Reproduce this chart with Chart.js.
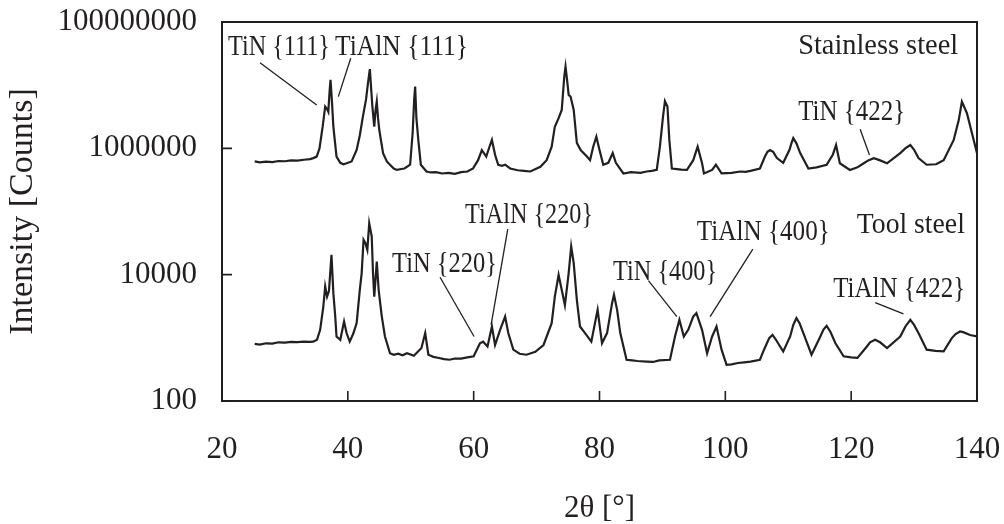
<!DOCTYPE html>
<html><head><meta charset="utf-8">
<script src="https://cdn.jsdelivr.net/npm/chart.js@4/dist/chart.umd.min.js"></script>
<style>html,body{margin:0;padding:0;background:#fff;overflow:hidden}#c{display:block}</style>
</head><body>
<canvas id="c" width="1004" height="524"></canvas>
<script>
// ---- data ----
const ssTheta = [25.2,26,27,28,29,30,31,32,33,34,34.5,35.05,35.5,35.85,36.0,36.4,36.7,36.9,37.1,37.25,37.5,37.7,38.2,38.8,39.3,39.8,40.6,41.4,41.9,42.4,42.9,43.2,43.5,43.7,43.9,44.2,44.4,44.6,44.8,45.0,45.6,46.2,46.7,47.3,47.8,48.5,49,49.9,50.3,50.55,50.7,50.9,51.2,51.6,52.5,53.2,54,55,56,57,58,59,59.9,60.7,61.3,61.6,62.0,62.5,62.9,63.4,63.9,64.5,65,65.8,67,68,69,70.6,71.6,72.4,72.9,73.5,74.0,74.4,74.6,74.85,75.1,75.4,75.9,76.4,77,78,78.5,79,79.5,80,80.6,81.4,82.1,82.6,83.8,85,86.5,87.5,88.3,89.1,89.6,90.1,90.4,90.8,91.1,91.5,92.3,93,93.9,94.9,95.6,96.3,96.6,97.9,98.5,99.4,100.2,101,102.4,103.2,104,105.5,106.3,106.7,107.1,107.6,108.2,109.2,110.2,110.5,110.8,111.3,111.9,113.2,114.5,116.1,117.1,117.6,118.2,119.8,121,122,122.8,123.6,124.5,125.7,127.8,128.6,129.4,130.0,130.7,132,133.5,134.7,136.3,137.1,137.6,138.4,139.2,140];
const ssCounts = [620000,600000,615000,605000,630000,625000,645000,640000,660000,675000,700000,740000,1000000,1750000,2200000,4600000,4200000,3800000,8000000,12100000,5000000,2200000,740000,590000,560000,580000,620000,940000,1600000,3200000,6000000,10800000,18000000,9000000,4600000,2200000,4000000,5500000,3000000,1950000,840000,620000,550000,480000,455000,470000,480000,550000,1750000,6000000,9500000,3000000,1360000,550000,430000,415000,420000,400000,410000,395000,420000,430000,480000,650000,940000,850000,740000,1050000,1360000,790000,550000,530000,550000,480000,450000,440000,430000,510000,650000,1060000,2200000,3000000,4060000,13600000,19600000,12000000,7000000,6600000,4060000,1220000,940000,740000,650000,1060000,1530000,940000,550000,590000,840000,590000,400000,420000,410000,430000,440000,455000,1060000,3200000,5600000,4600000,1360000,480000,470000,460000,455000,650000,1060000,580000,400000,455000,550000,400000,405000,410000,430000,425000,440000,480000,740000,880000,940000,880000,700000,590000,950000,1200000,1450000,1200000,840000,480000,500000,550000,800000,1130000,580000,455000,500000,580000,650000,700000,650000,580000,840000,1000000,1130000,950000,700000,550000,560000,650000,1360000,2800000,5500000,3600000,1730000,840000];

const tsTheta = [25.2,26,27,28,29,30,31,32,33,34,34.5,35.1,35.6,36.1,36.4,36.7,37.0,37.4,37.7,38.0,38.2,38.8,39.4,39.8,40.3,40.9,41.4,41.9,42.2,42.5,42.8,43.1,43.4,43.8,44.0,44.2,44.6,44.9,45.4,45.9,46.7,47.3,48,48.7,49.4,50.5,51.7,52.3,52.8,53.6,54.5,55.3,56.2,57,58,59,60,61,61.5,62.2,62.9,63.4,64.2,65,65.5,66.3,67.3,68.4,69.8,71.1,72.4,72.9,73.5,74.0,74.5,75.1,75.5,75.9,76.4,76.9,77.7,78.7,79.7,80.4,81.2,82.0,82.3,82.8,83.3,84.3,85.2,86,87.5,88.5,89.5,91.2,92.0,92.7,93.4,94.1,94.9,95.4,96.3,97.1,97.9,98.6,99.4,100.2,101,102,103,104,105.5,106.0,106.6,107.0,107.5,108.0,108.7,109.2,110.3,110.8,111.3,111.8,112.4,113.7,115.1,115.6,116.1,116.7,117.5,118.8,120,121,122.5,123.0,123.8,124.6,125.7,127.8,128.6,129.4,130.0,130.7,132,133.4,134.7,136,136.6,137.3,137.8,138.9,140];
const tsCounts = [800,780,820,810,850,840,860,855,870,865,870,930,1340,3100,6500,4500,5500,20600,5100,2170,1050,930,1810,1190,870,1190,1710,5700,10600,35600,31500,24700,65000,40000,10600,4500,16100,5700,2170,1050,570,540,560,530,570,520,690,1190,540,500,480,460,450,470,470,490,510,820,870,730,1510,770,1340,2170,1190,650,560,540,600,770,1710,4500,9900,5700,3300,10600,27900,15200,4000,1510,1190,870,2770,820,1190,3540,4800,2770,1190,450,440,430,420,415,440,450,1050,1930,1050,1340,2170,2460,1340,570,1050,1510,650,375,380,400,410,420,450,600,820,1000,1110,950,730,610,1050,1600,2050,1700,1190,540,1050,1350,1550,1250,820,510,490,480,730,850,930,850,690,1050,1500,1930,1600,1190,650,620,610,990,1150,1260,1230,1110,1050];

const xTickValues = [20,40,60,80,100,120,140];
const yTickValues = [100,10000,1000000,100000000];
const yTickLabels = ['100','10000','1000000','100000000'];

// annotation texts with leader lines (data coordinates)
const annotations = [
  {text:'TiN {111}',      at:[20.95,3.0e7],  w:102, from:[26.04,2.27e7], to:[35.05,4.86e6]},
  {text:'TiAlN {111}',    at:[37.97,3.0e7],  w:133, from:[40.46,2.67e7], to:[38.49,6.58e6]},
  {text:'Stainless steel',at:[111.57,3.12e7],w:160},
  {text:'TiN {422}',      at:[111.57,2.81e6],w:107, from:[121.43,2.0e6], to:[122.91,7.87e5]},
  {text:'TiAlN {220}',    at:[58.63,6.6e4],  w:128, from:[65.42,5.25e4], to:[62.77,1.61e3]},
  {text:'TiN {220}',      at:[47.03,1.12e4], w:105, from:[54.66,9.1e3],  to:[60.06,1.05e3]},
  {text:'TiN {400}',      at:[82.16,8.27e3], w:104, from:[87.78,8.07e3], to:[92.29,2.17e3]},
  {text:'TiAlN {400}',    at:[95.47,3.55e4], w:133, from:[104.37,2.53e4],to:[97.58,2.17e3]},
  {text:'Tool steel',     at:[120.9,4.58e4], w:108},
  {text:'TiAlN {422}',    at:[117.14,4.5e3], w:132, from:[123.82,3.62e3],to:[128.31,2.4e3]}
];

const INK = '#231f20';
const SERIF = "'Liberation Serif','Times New Roman',serif";

const framePlugin = {
  id:'frame',
  afterDatasetsDraw(chart){
    const {ctx, chartArea:a, scales:{x, y}} = chart;
    ctx.save();
    ctx.strokeStyle = INK;
    ctx.lineWidth = 2;
    ctx.strokeRect(a.left, a.top, a.right - a.left, a.bottom - a.top);
    ctx.lineWidth = 1.6;
    ctx.beginPath();
    xTickValues.forEach(v => { const px = x.getPixelForValue(v); ctx.moveTo(px, a.bottom); ctx.lineTo(px, a.bottom - 10); });
    yTickValues.forEach(v => { const py = y.getPixelForValue(v); ctx.moveTo(a.left, py); ctx.lineTo(a.left + 10, py); });
    ctx.stroke();
    ctx.font = '30px ' + SERIF;
    ctx.fillStyle = INK;
    ctx.textBaseline = 'alphabetic';
    ctx.textAlign = 'left';
    ctx.lineWidth = 1.3;
    annotations.forEach(an => {
      ctx.fillText(an.text, x.getPixelForValue(an.at[0]), y.getPixelForValue(an.at[1]), an.w);
      if (an.from) {
        ctx.beginPath();
        ctx.moveTo(x.getPixelForValue(an.from[0]), y.getPixelForValue(an.from[1]));
        ctx.lineTo(x.getPixelForValue(an.to[0]), y.getPixelForValue(an.to[1]));
        ctx.stroke();
      }
    });
    ctx.restore();
  }
};

const toPts = (xs, ys) => xs.map((v, i) => ({x: v, y: ys[i]}));
const zeroPad = s => { s.paddingLeft = 0; s.paddingRight = 0; s.paddingTop = 0; s.paddingBottom = 0; };

new Chart(document.getElementById('c'), {
  type: 'line',
  data: {
    datasets: [
      {label:'Stainless steel', data: toPts(ssTheta, ssCounts), borderColor: INK, borderWidth: 2.2, pointRadius: 0, tension: 0, fill:false},
      {label:'Tool steel', data: toPts(tsTheta, tsCounts), borderColor: INK, borderWidth: 2.2, pointRadius: 0, tension: 0, fill:false}
    ]
  },
  options: {
    responsive: false,
    devicePixelRatio: 1,
    animation: false,
    layout: {padding: {left: 0, right: 27, top: 22, bottom: 0}},
    plugins: {legend: {display: false}, tooltip: {enabled: false}},
    scales: {
      x: {
        type: 'linear', min: 20, max: 140,
        afterBuildTicks: s => { s.ticks = xTickValues.map(v => ({value: v})); },
        afterFit: s => { s.height = 123; zeroPad(s); },
        ticks: {color: INK, font: {family: SERIF, size: 31}, padding: 30, maxRotation: 0, autoSkip: false},
        grid: {display: false, drawTicks: false},
        border: {display: false},
        title: {display: true, text: '2θ [°]', color: INK, font: {family: SERIF, size: 31, lineHeight: 1.0}, padding: {top: 0, bottom: 0}}
      },
      y: {
        type: 'logarithmic', min: 100, max: 100000000,
        afterBuildTicks: s => { s.ticks = yTickValues.map(v => ({value: v})); },
        afterFit: s => { s.width = 222; zeroPad(s); },
        ticks: {color: INK, font: {family: SERIF, size: 31}, padding: 25, autoSkip: false,
          callback: (v, i) => yTickLabels[i]},
        grid: {display: false, drawTicks: false},
        border: {display: false},
        title: {display: true, text: 'Intensity [Counts]', color: INK, font: {family: SERIF, size: 34, lineHeight: 1.0}, padding: {top: 6, bottom: 0}}
      }
    }
  },
  plugins: [framePlugin]
});
</script>
</body></html>
